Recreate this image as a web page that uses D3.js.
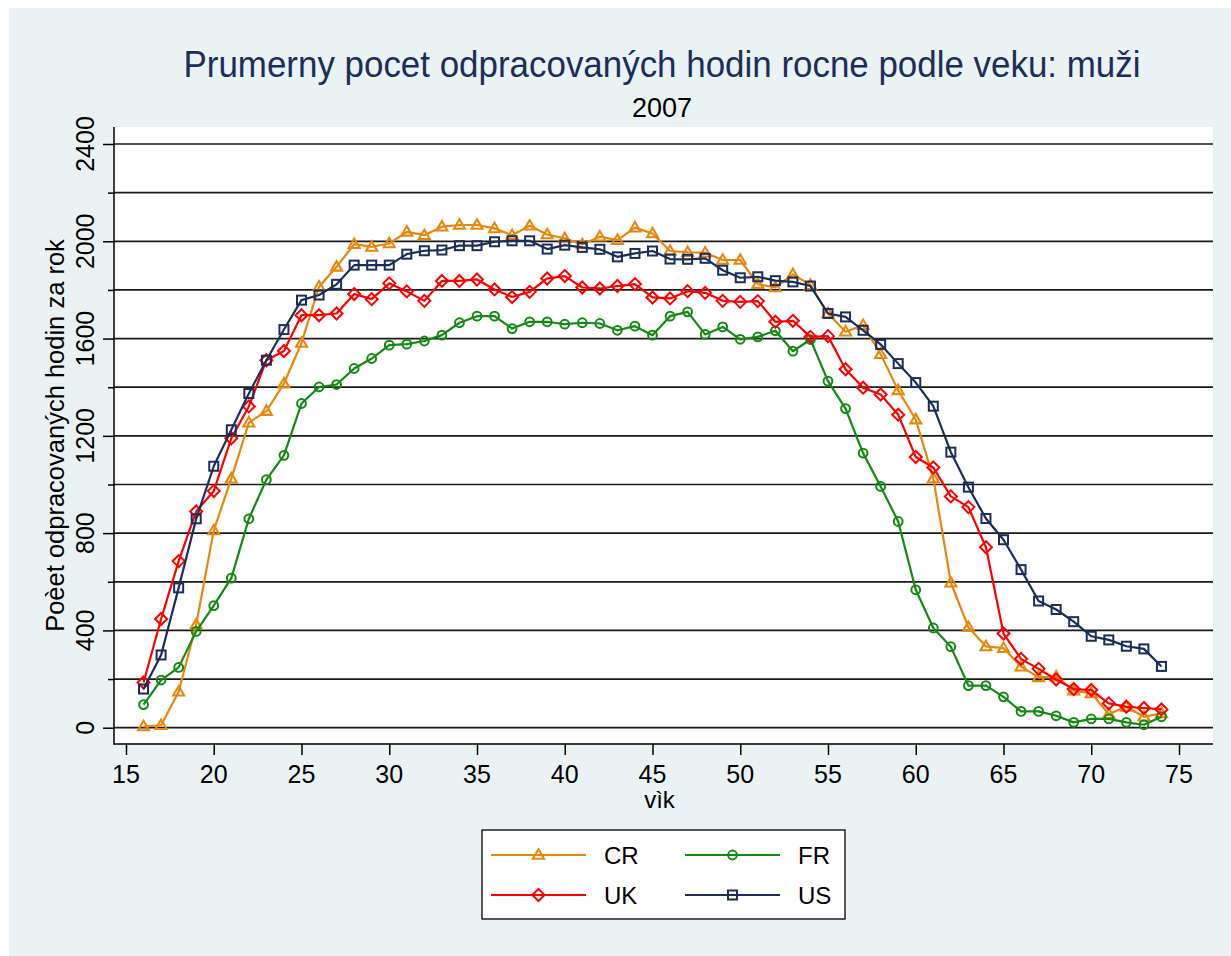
<!DOCTYPE html>
<html>
<head>
<meta charset="utf-8">
<script src="https://cdn.jsdelivr.net/npm/d3@7"></script>
<style>
  html, body { margin: 0; padding: 0; background: #ffffff; }
  svg { display: block; font-family: "Liberation Sans", Arial, sans-serif; }
</style>
</head>
<body>
<svg id="chart" width="1231" height="956"></svg>
<script>
const ages = d3.range(16, 75);
const seriesNames = ["CR", "FR", "UK", "US"];
const crValues = [5, 10, 148, 424, 811, 1024, 1254, 1302, 1415, 1582, 1813, 1895, 1988, 1977, 1991, 2039, 2025, 2060, 2067, 2067, 2053, 2025, 2064, 2028, 2012, 1987, 2019, 2005, 2056, 2032, 1960, 1955, 1953, 1923, 1923, 1824, 1810, 1864, 1820, 1703, 1628, 1655, 1536, 1387, 1267, 1025, 596, 413, 334, 327, 251, 207, 210, 152, 141, 56, 86, 45, 59];
const frValues = [95, 196, 248, 396, 502, 615, 859, 1020, 1120, 1333, 1401, 1411, 1477, 1518, 1573, 1577, 1590, 1614, 1665, 1692, 1692, 1641, 1669, 1669, 1659, 1665, 1662, 1634, 1651, 1614, 1692, 1710, 1617, 1648, 1597, 1607, 1632, 1548, 1596, 1425, 1312, 1129, 992, 848, 567, 410, 333, 173, 173, 127, 67, 67, 49, 22, 36, 36, 22, 12, 45];
const ukValues = [186, 447, 685, 889, 973, 1190, 1321, 1511, 1549, 1696, 1696, 1703, 1783, 1762, 1827, 1794, 1755, 1837, 1837, 1843, 1802, 1771, 1792, 1847, 1857, 1810, 1806, 1816, 1824, 1769, 1765, 1795, 1788, 1755, 1751, 1754, 1669, 1673, 1607, 1610, 1474, 1398, 1370, 1287, 1113, 1070, 951, 907, 742, 387, 283, 242, 198, 159, 155, 100, 86, 81, 75];
const usValues = [159, 299, 575, 859, 1075, 1225, 1374, 1511, 1637, 1758, 1779, 1823, 1902, 1902, 1902, 1947, 1961, 1964, 1982, 1982, 1998, 2002, 2002, 1968, 1984, 1975, 1967, 1936, 1950, 1960, 1927, 1926, 1930, 1881, 1850, 1854, 1838, 1833, 1816, 1703, 1689, 1634, 1576, 1497, 1419, 1322, 1133, 989, 860, 773, 650, 521, 486, 436, 376, 361, 335, 324, 252];
const xTicks = [15, 20, 25, 30, 35, 40, 45, 50, 55, 60, 65, 70, 75];
const yTicks = [0, 400, 800, 1200, 1600, 2000, 2400];
const yMinorTicks = [200, 600, 1000, 1400, 1800, 2200];
const yGrid = [0, 200, 400, 600, 800, 1000, 1200, 1400, 1600, 1800, 2000, 2200, 2400];
const titleText = "Prumerny pocet odpracovaných hodin rocne podle veku: muži";
const subtitleText = "2007";
const xTitle = "vìk";
const yTitle = "Poèet odpracovaných hodin za rok";

const colors = { CR: "#e8870e", FR: "#138a13", UK: "#ff0000", US: "#1c2d5b" };
const valuesBy = { CR: crValues, FR: frValues, UK: ukValues, US: usValues };
const shapes = { CR: "tri", FR: "circle", UK: "diamond", US: "square" };

const svg = d3.select("#chart");
const plot = { left: 114, right: 1213, top: 127, bottom: 744 };

svg.append("rect").attr("x", 9).attr("y", 8).attr("width", 1231 - 9).attr("height", 956 - 8).attr("fill", "#eaf2f3");
svg.append("rect").attr("x", plot.left).attr("y", plot.top).attr("width", plot.right - plot.left).attr("height", plot.bottom - plot.top).attr("fill", "#ffffff");

const x = d3.scaleLinear().domain([15, 75]).range([126, 1179]);
const y = d3.scaleLinear().domain([0, 2400]).range([727.7, 144]);

// gridlines
svg.append("g").selectAll("line").data(yGrid).join("line")
  .attr("x1", plot.left).attr("x2", plot.right)
  .attr("y1", d => y(d)).attr("y2", d => y(d))
  .attr("stroke", "#1a1a1a").attr("stroke-width", 1.7);

// y axis
const yAxis = d3.axisLeft(y).tickValues(yTicks).tickSize(11).tickFormat("");
const gy = svg.append("g").attr("transform", `translate(${plot.left},0)`).call(yAxis);
gy.select(".domain").remove();
gy.selectAll(".tick line").attr("stroke", "#000").attr("stroke-width", 1.5);
const yAxisMinor = d3.axisLeft(y).tickValues(yMinorTicks).tickSize(6).tickFormat("");
const gym = svg.append("g").attr("transform", `translate(${plot.left},0)`).call(yAxisMinor);
gym.select(".domain").remove();
gym.selectAll(".tick line").attr("stroke", "#000").attr("stroke-width", 1.5);
svg.append("line").attr("x1", plot.left).attr("x2", plot.left).attr("y1", plot.top).attr("y2", plot.bottom + 0.75)
  .attr("stroke", "#000").attr("stroke-width", 1.5);
svg.append("g").selectAll("text").data(yTicks).join("text")
  .attr("transform", d => `translate(94,${y(d)}) rotate(-90)`)
  .attr("text-anchor", "middle").attr("font-size", 25).attr("fill", "#000")
  .text(d => d);

// x axis
const xAxis = d3.axisBottom(x).tickValues(xTicks).tickSize(11).tickFormat("");
const gx = svg.append("g").attr("transform", `translate(0,${plot.bottom})`).call(xAxis);
gx.select(".domain").remove();
gx.selectAll(".tick line").attr("stroke", "#000").attr("stroke-width", 1.5);
svg.append("line").attr("x1", plot.left).attr("x2", plot.right).attr("y1", plot.bottom).attr("y2", plot.bottom)
  .attr("stroke", "#000").attr("stroke-width", 1.5);
svg.append("g").selectAll("text").data(xTicks).join("text")
  .attr("x", d => x(d)).attr("y", 783)
  .attr("text-anchor", "middle").attr("font-size", 25).attr("fill", "#000")
  .text(d => d);

// axis titles
svg.append("text").attr("x", (plot.left + plot.right) / 2 - 4).attr("y", 808)
  .attr("text-anchor", "middle").attr("font-size", 24).attr("fill", "#000").text(xTitle);
svg.append("text").attr("transform", `translate(64,${(plot.top + plot.bottom) / 2}) rotate(-90)`)
  .attr("text-anchor", "middle").attr("font-size", 25.5).attr("fill", "#000").text(yTitle);

// titles
svg.append("text").attr("x", 662).attr("y", 77).attr("text-anchor", "middle")
  .attr("font-size", 36).attr("fill", "#1c2d5b")
  .attr("textLength", 957).attr("lengthAdjust", "spacingAndGlyphs").text(titleText);
svg.append("text").attr("x", 662).attr("y", 117).attr("text-anchor", "middle")
  .attr("font-size", 27).attr("fill", "#000").text(subtitleText);

function drawMarker(g, shape, cx, cy, color) {
  if (shape === "circle") {
    g.append("circle").attr("cx", cx).attr("cy", cy).attr("r", 4.4)
      .attr("fill", "none").attr("stroke", color).attr("stroke-width", 2);
  } else if (shape === "square") {
    g.append("rect").attr("x", cx - 4.5).attr("y", cy - 4.5).attr("width", 9).attr("height", 9)
      .attr("fill", "none").attr("stroke", color).attr("stroke-width", 2);
  } else if (shape === "diamond") {
    const s = 6;
    g.append("path").attr("d", `M${cx},${cy - s}L${cx + s},${cy}L${cx},${cy + s}L${cx - s},${cy}Z`)
      .attr("fill", "none").attr("stroke", color).attr("stroke-width", 2);
  } else {
    const h = 9.5, w = 11;
    g.append("path").attr("d", `M${cx},${cy - h * 0.6}L${cx + w / 2},${cy + h * 0.4}L${cx - w / 2},${cy + h * 0.4}Z`)
      .attr("fill", "none").attr("stroke", color).attr("stroke-width", 2.1);
  }
}

const line = d3.line().x((d, i) => x(ages[i])).y(d => y(d));
seriesNames.forEach(name => {
  const vals = valuesBy[name];
  const g = svg.append("g");
  g.append("path").datum(vals).attr("d", line)
    .attr("fill", "none").attr("stroke", colors[name]).attr("stroke-width", 2.2)
    .attr("stroke-linejoin", "round");
  vals.forEach((v, i) => drawMarker(g, shapes[name], x(ages[i]), y(v), colors[name]));
});

// legend
const lg = svg.append("g");
lg.append("rect").attr("x", 482).attr("y", 830).attr("width", 363).attr("height", 89)
  .attr("fill", "#fff").attr("stroke", "#000").attr("stroke-width", 1.3);
const legendPos = { CR: [491, 855], FR: [685, 855], UK: [491, 895], US: [685, 895] };
seriesNames.forEach(name => {
  const [lx, ly] = legendPos[name];
  lg.append("line").attr("x1", lx).attr("x2", lx + 95).attr("y1", ly).attr("y2", ly)
    .attr("stroke", colors[name]).attr("stroke-width", 2);
  drawMarker(lg, shapes[name], lx + 47.5, ly, colors[name]);
  lg.append("text").attr("x", lx + 113).attr("y", ly + 9).attr("font-size", 24).attr("fill", "#000").text(name);
});
</script>
</body>
</html>
